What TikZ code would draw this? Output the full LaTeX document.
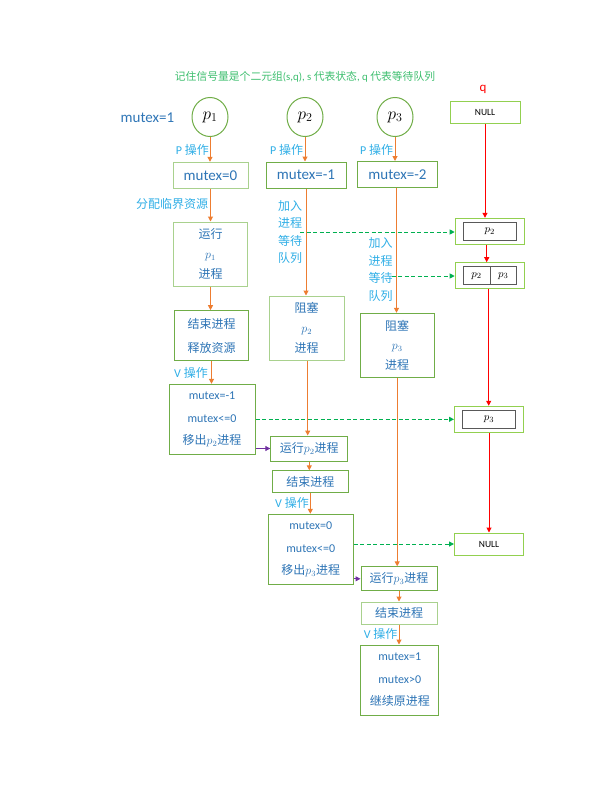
\documentclass[tikz,border=0pt]{standalone}
\usepackage{fontspec}
\setmainfont{Carlito}
\newfontfamily\cjk{Noto Sans CJK SC}
\usetikzlibrary{arrows.meta,shapes.geometric}
\definecolor{gmain}{HTML}{70AD47}
\definecolor{glight}{HTML}{A9D18E}
\definecolor{lime}{HTML}{92D050}
\definecolor{tblue}{HTML}{2E75B6}
\definecolor{lblue}{HTML}{2FAEE6}
\definecolor{tgreen}{HTML}{3DBE6E}
\definecolor{orangeC}{HTML}{ED7D31}
\definecolor{dgreen}{HTML}{00B050}
\definecolor{purpleC}{HTML}{7030A0}
\definecolor{qgray}{HTML}{595959}
\begin{document}
\begin{tikzpicture}[x=1pt,y=-1pt,
  box/.style={draw=gmain, line width=1pt, fill=white, inner sep=0pt, align=center, text=tblue},
  lbox/.style={box, draw=glight},
  proc/.style={ellipse, draw=gmain, line width=1pt, fill=white, minimum width=36pt, minimum height=39pt, inner sep=0pt, font=\fontsize{18}{20}\selectfont},
  lbl/.style={text=lblue, inner sep=0pt, align=center, font=\fontsize{12}{14}\selectfont},
  qbox/.style={draw=lime, line width=1pt, fill=white, inner sep=0pt, minimum width=69pt},
  qin/.style={draw=qgray, line width=0.7pt, inner sep=0pt, font=\fontsize{11}{12}\selectfont},
  oarr/.style={draw=orangeC, line width=1pt, -{Triangle[length=5pt,width=5pt]}},
  rarr/.style={draw=red, line width=1pt, -{Triangle[length=5pt,width=5pt]}},
  garr/.style={draw=dgreen, line width=1pt, dash pattern=on 4pt off 2.5pt, -{Triangle[length=5pt,width=5pt]}},
  parr/.style={draw=purpleC, line width=1pt, -{Triangle[length=5pt,width=5pt]}}
]
\useasboundingbox (0,0) rectangle (612,792);

% title and header
\node[text=tgreen, inner sep=0pt, font=\fontsize{10.8}{12}\selectfont] (title) at (305,77)
  {{\cjk 记住信号量是个二元组}(s,q), s {\cjk 代表状态}, q {\cjk 代表等待队列}};
\node[text=tblue, inner sep=0pt, font=\fontsize{15}{18}\selectfont] (mx) at (147.5,118) {mutex=1};
\node[text=red, inner sep=0pt, font=\fontsize{13}{15}\selectfont] (qlab) at (483,89) {q};

% processes
\node[proc] (p1) at (210,117) {$p_1$};
\node[proc] (p2) at (305,117) {$p_2$};
\node[proc] (p3) at (395,117) {$p_3$};

\node[lbl] (P1) at (192.3,150) {P {\cjk 操作}};
\node[lbl] (P2) at (286.7,150) {P {\cjk 操作}};
\node[lbl] (P3) at (376.7,150) {P {\cjk 操作}};

\node[lbox, minimum width=75pt, minimum height=26pt, font=\fontsize{15}{18}\selectfont] (m0) at (210.5,175.3) {mutex=0};
\node[box, minimum width=80pt, minimum height=26pt, font=\fontsize{15}{18}\selectfont] (m1) at (306,175) {mutex=-1};
\node[box, minimum width=80pt, minimum height=26pt, font=\fontsize{15}{18}\selectfont] (m2) at (397.5,174.5) {mutex=-2};

% left column
\node[lbl] (alloc) at (172,204) {\cjk 分配临界资源};
\node[lbox, minimum width=74pt, minimum height=64pt, font=\fontsize{12}{20}\selectfont] (run1) at (210.5,254)
  {{\cjk 运行}\\{\fontsize{12}{12}\selectfont$p_1$}\\{\cjk 进程}};
\node[box, minimum width=74pt, minimum height=50pt, font=\fontsize{12}{24.4}\selectfont] (end1) at (211.5,335.7)
  {{\cjk 结束进程}\\{\cjk 释放资源}};
\node[lbl] (V1) at (191,372.7) {V {\cjk 操作}};
\node[box, minimum width=86pt, minimum height=70pt, font=\fontsize{12}{22.5}\selectfont] (mm1) at (212,419.3)
  {mutex=-1\\mutex<=0\\{\cjk 移出}$p_2${\cjk 进程}};

% middle column
\node[lbl, font=\fontsize{12}{17.6}\selectfont] (j1) at (290,232) {\cjk 加入\\\cjk 进程\\\cjk 等待\\\cjk 队列};
\node[lbox, minimum width=75pt, minimum height=64pt, font=\fontsize{12}{19.7}\selectfont] (blk2) at (306.7,328)
  {{\cjk 阻塞}\\{\fontsize{12}{12}\selectfont$p_2$}\\{\cjk 进程}};
\node[box, minimum width=77pt, minimum height=25pt, font=\fontsize{12}{14}\selectfont] (r2) at (309.3,448.5)
  {{\cjk 运行}$p_2${\cjk 进程}};
\node[box, minimum width=76pt, minimum height=22pt, font=\fontsize{12}{14}\selectfont] (e2) at (310.3,481.8)
  {\cjk 结束进程};
\node[lbl] (V2) at (292,503.3) {V {\cjk 操作}};
\node[box, minimum width=85pt, minimum height=70pt, font=\fontsize{12}{22.5}\selectfont] (mm0) at (310.8,549.3)
  {mutex=0\\mutex<=0\\{\cjk 移出}$p_3${\cjk 进程}};

% right process column
\node[lbl, font=\fontsize{12}{17.6}\selectfont] (j2) at (380.7,269.7) {\cjk 加入\\\cjk 进程\\\cjk 等待\\\cjk 队列};
\node[box, minimum width=74pt, minimum height=64pt, font=\fontsize{12}{19.7}\selectfont] (blk3) at (397.2,345.3)
  {{\cjk 阻塞}\\{\fontsize{12}{12}\selectfont$p_3$}\\{\cjk 进程}};
\node[box, minimum width=76pt, minimum height=24pt, font=\fontsize{12}{14}\selectfont] (r3) at (399,578.8)
  {{\cjk 运行}$p_3${\cjk 进程}};
\node[lbox, minimum width=76pt, minimum height=22pt, font=\fontsize{12}{14}\selectfont] (e3) at (399,613)
  {\cjk 结束进程};
\node[lbl] (V3) at (380.7,634.3) {V {\cjk 操作}};
\node[box, minimum width=78pt, minimum height=70pt, font=\fontsize{12}{22.5}\selectfont] (mm2) at (399.8,680)
  {mutex=1\\mutex>0\\{\cjk 继续原进程}};

% queue column
\node[qbox, minimum width=70pt, minimum height=22pt, font=\fontsize{9.5}{11}\selectfont] (null1) at (485,112.5) {NULL};
\node[qbox, minimum height=26pt] (q1) at (489.7,231.3) {};
\node[qin, minimum width=53pt, minimum height=18pt] (q1i) at (q1.center) {$p_2$};
\node[qbox, minimum height=26pt] (q2) at (489.7,275.7) {};
\node[qin, minimum width=26.7pt, minimum height=18pt] (q2a) at (476.6,275.8) {$p_2$};
\node[qin, minimum width=26.7pt, minimum height=18pt] (q2b) at (503.3,275.8) {$p_3$};
\node[qbox, minimum height=26pt] (q3) at (489,419.3) {};
\node[qin, minimum width=53pt, minimum height=18pt] (q3i) at (q3.center) {$p_3$};
\node[qbox, minimum height=22pt, font=\fontsize{9.5}{11}\selectfont] (null2) at (489,544) {NULL};

% orange flow
\draw[oarr] (p1.south) -- (p1.south |- m0.north);
\draw[oarr] (m0.south) -- (m0.south |- run1.north);
\draw[oarr] (run1.south) -- (run1.south |- end1.north);
\draw[oarr] (end1.south) -- (end1.south |- mm1.north);
\draw[oarr] (p2.south) -- (p2.south |- m1.north);
\draw[oarr] (m1.south) -- (m1.south |- blk2.north);
\draw[oarr] ([xshift=1pt]blk2.south) -- ([xshift=1pt]blk2.south |- r2.north);
\draw[oarr] (r2.south) -- (r2.south |- e2.north);
\draw[oarr] (e2.south) -- (e2.south |- mm0.north);
\draw[oarr] (p3.south) -- (p3.south |- m2.north);
\draw[oarr] ([xshift=-1pt]m2.south) -- ([xshift=-1pt]m2.south |- blk3.north);
\draw[oarr] (blk3.south) -- (blk3.south |- r3.north);
\draw[oarr] (r3.south) -- (r3.south |- e3.north);
\draw[oarr] (e3.south) -- (e3.south |- mm2.north);

% red queue chain
\draw[rarr] (null1.south) -- (null1.south |- q1.north);
\draw[rarr] ([xshift=-3pt]q1.south) -- ([xshift=-3pt]q1.south |- q2.north);
\draw[rarr] ([xshift=-1pt]q2.south) -- ([xshift=-1pt]q2.south |- q3.north);
\draw[rarr] (q3.south) -- (q3.south |- null2.north);

% green dashed
\coordinate (d1) at (300,232);
\coordinate (d2) at (391.7,276);
\draw[garr] (d1) -- (d1 -| q1.west);
\draw[garr] (d2) -- (d2 -| q2.west);
\draw[garr] (q3.west -| mm1.east) -- (q3.west);
\draw[garr] (null2.west -| mm0.east) -- (null2.west);

% purple
\draw[parr] (r2.west -| mm1.east) -- (r2.west);
\draw[parr] (r3.west -| mm0.east) -- (r3.west);
\end{tikzpicture}
\end{document}
